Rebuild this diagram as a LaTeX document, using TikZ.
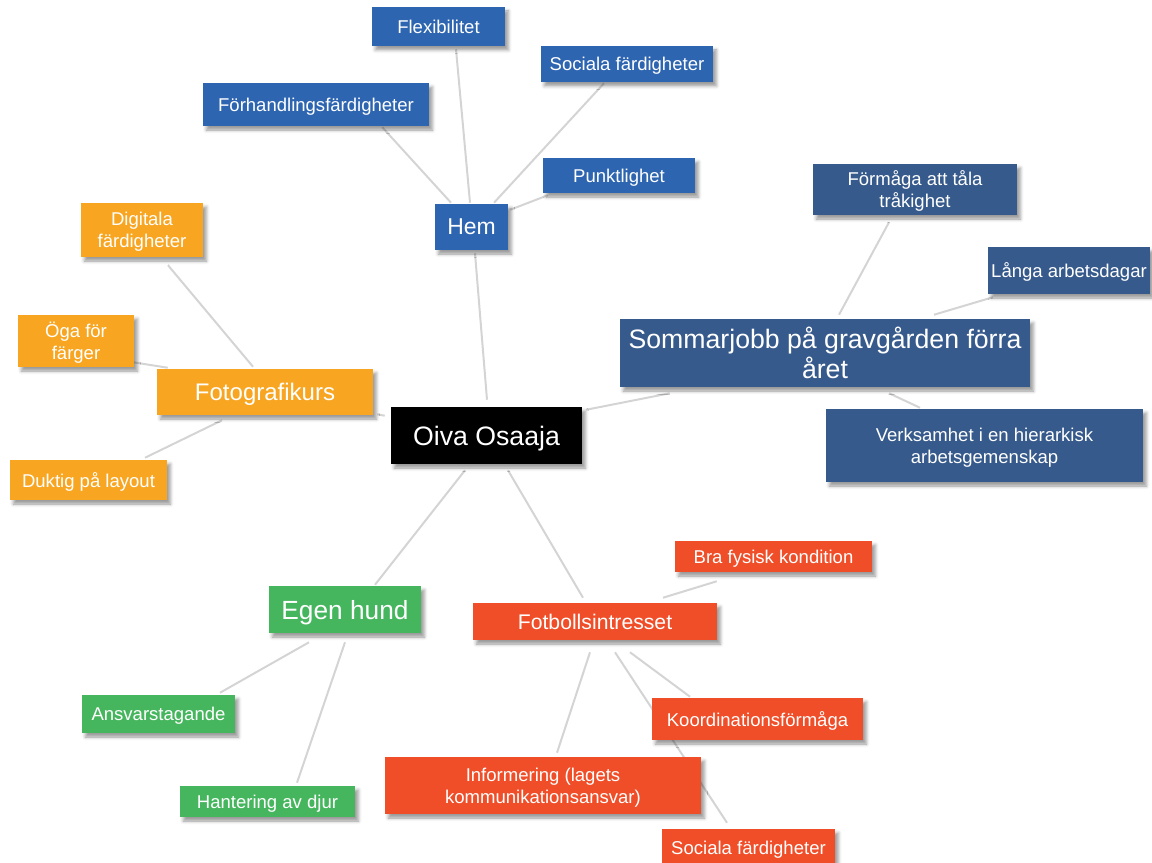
\documentclass[tikz,border=0pt]{standalone}
\usepackage{fontspec}
\setmainfont{Liberation Sans}
\usetikzlibrary{calc,shadows.blur,backgrounds}
\definecolor{hemblue}{HTML}{2E65B0}
\definecolor{jobblue}{HTML}{365A8B}
\definecolor{fotoorange}{HTML}{F8A621}
\definecolor{hundgreen}{HTML}{46B65E}
\definecolor{fotbred}{HTML}{F04E28}
\definecolor{linkgray}{HTML}{D4D4D4}
\tikzset{
 box/.style={inner sep=0pt,text=white,align=center,text depth=-1.5pt,blur shadow={shadow xshift=2.5pt,shadow yshift=-3pt,shadow blur radius=2.5pt,shadow opacity=40}},
 sz/.style 2 args={minimum width=#1*.75pt,minimum height=#2*.75pt},
 sm/.style={font=\fontsize{13.9}{16.5}\selectfont},
 link/.style={draw=linkgray,line width=1.5pt}}

\begin{document}
\begin{tikzpicture}[x=.75pt,y=-.75pt]
\useasboundingbox (0,0) rectangle (1152,863);
\node[box,fill=black,sz={191}{57},font=\fontsize{20}{24}\selectfont](oiva)at(486.5,435.5){Oiva Osaaja};
\node[box,fill=hemblue,sz={73}{46},font=\fontsize{17.2}{20}\selectfont](hem)at(471.5,227){Hem};
\node[box,sm,fill=hemblue,sz={133}{39}](flex)at(438.5,26.5){Flexibilitet};\node[box,sm,fill=hemblue,sz={172}{36}](socA)at(627,64){Sociala färdigheter};
\node[box,sm,fill=hemblue,sz={226}{43}](forh)at(316,104.5){Förhandlingsfärdigheter};\node[box,sm,fill=hemblue,sz={152}{35}](punkt)at(619,175.5){Punktlighet};
\node[box,fill=jobblue,sz={410}{68},font=\fontsize{20}{22.5}\selectfont](sommar)at(825,353){Sommarjobb på gravgården förra\\året};
\node[box,sm,fill=jobblue,sz={204}{51}](forma)at(915,189.5){Förmåga att tåla\\tråkighet};\node[box,sm,fill=jobblue,sz={162}{47}](langa)at(1069,270.5){Långa arbetsdagar};
\node[box,sm,fill=jobblue,sz={317}{73}](verks)at(984.5,445.5){Verksamhet i en hierarkisk\\arbetsgemenskap};
\node[box,fill=fotoorange,sz={216}{46},font=\fontsize{18}{21}\selectfont](foto)at(265,392){Fotografikurs};
\node[box,sm,fill=fotoorange,sz={122}{54}](digi)at(142,230){Digitala\\färdigheter};\node[box,sm,fill=fotoorange,sz={116}{52}](oga)at(76,341){Öga för\\färger};
\node[box,sm,fill=fotoorange,sz={157}{40}](dukt)at(88.5,480){Duktig på layout};
\node[box,fill=hundgreen,sz={152}{47},font=\fontsize{19.7}{23}\selectfont](hund)at(345,609.5){Egen hund};
\node[box,sm,fill=hundgreen,sz={153}{38}](ansv)at(158.5,714){Ansvarstagande};\node[box,sm,fill=hundgreen,sz={175}{31}](hant)at(267.5,801.5){Hantering av djur};
\node[box,fill=fotbred,sz={244}{37},font=\fontsize{15.9}{19}\selectfont](fotb)at(595,621.5){Fotbollsintresset};
\node[box,sm,fill=fotbred,sz={197}{31}](bra)at(773.5,556.5){Bra fysisk kondition};\node[box,sm,fill=fotbred,sz={211}{42}](koord)at(757.5,719){Koordinationsförmåga};
\node[box,sm,fill=fotbred,sz={316}{57}](info)at(543,785.5){Informering (lagets\\kommunikationsansvar)};\node[box,sm,fill=fotbred,sz={173}{37}](socB)at(748.5,847.5){Sociala färdigheter};
\begin{scope}[on background layer]
\draw[link]($(hem.north)+(-1.5,-1)$)--($(flex.south)+(17.5,3)$);\draw[link]($(hem.north)+(-20.5,-1)$)--($(forh.south east)+(-47,1)$);
\draw[link]($(hem.north)+(22.5,-1)$)--($(socA.south)+(-23,1)$);\draw[link]($(hem.north east)+(2,6)$)--($(punkt.south west)+(5,2)$);
\draw[link]($(oiva.north)+(.5,-7)$)--($(hem.south)+(3.5,3)$);
\draw[link]($(oiva.north east)+(4,3)$)--($(sommar.south west)+(50,6)$);
\draw[link]($(sommar.north)+(14,-4)$)--($(forma.south)+(-26,7)$);\draw[link]($(sommar.north)+(109,-4)$)--($(langa.south west)+(5,3)$);
\draw[link]($(sommar.south)+(64,6)$)--($(verks.north)+(-64.5,-1)$);
\draw[link]($(oiva.north west)+(-6,9)$)--($(foto.south east)+(4,-1)$);
\draw[link]($(foto.north)+(-12,-2)$)--($(digi.south)+(26,8)$);\draw[link]($(foto.north west)+(11,-1)$)--($(oga.south east)+(-1,-5)$);
\draw[link]($(foto.south)+(-43,5)$)--($(dukt.north)+(56.5,-2)$);
\draw[link]($(oiva.south)+(-21.5,6)$)--($(hund.north)+(30,-1)$);
\draw[link]($(hund.south)+(-36,9)$)--($(ansv.north)+(61.5,-2)$);\draw[link]($(hund.south)+(0,9)$)--($(hant.north)+(29.5,-3)$);
\draw[link]($(oiva.south)+(21.5,6)$)--($(fotb.north)+(-12,-5)$);
\draw[link]($(fotb.north)+(68,-5)$)--($(bra.south west)+(42,9)$);\draw[link]($(fotb.south)+(-5,12)$)--($(info.north)+(14,-4)$);
\draw[link]($(fotb.south)+(35,12)$)--($(koord.north)+(-67.5,-1)$);\draw[link]($(fotb.south)+(20,12)$)--($(socB.north)+(-21.5,-6)$);
\end{scope}
\end{tikzpicture}
\end{document}
